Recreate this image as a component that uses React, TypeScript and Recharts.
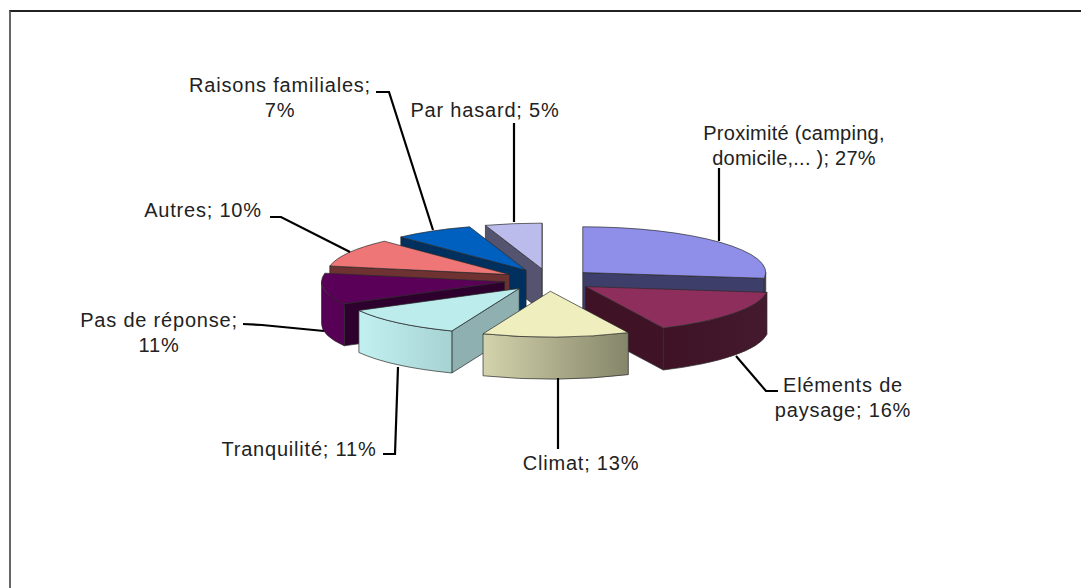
import { PieChart, Pie } from 'recharts';

const categories = [
  'Proximité (camping, domicile,... )',
  'Eléments de paysage',
  'Climat',
  'Tranquilité',
  'Pas de réponse',
  'Autres',
  'Raisons familiales',
  'Par hasard',
];
const shares = [27, 16, 13, 11, 11, 10, 7, 5];

const topColors = ['#8f8fea', '#8e2e5c', '#eeeebe', '#bcecec', '#5a0058', '#ef7676', '#0060c0', '#bcbcec'];
const cutColors = ['#3e3e6a', '#3f1226', '#8b8b6e', '#8eb0b0', '#2e002e', '#6e3232', '#00305e', '#545470'];
const wallStart = ['#3e3e6a', '#3f1226', '#d3d3ac', '#c2f0f0', '#560056', '#6e3232', '#00305e', '#545470'];
const wallEnd = ['#3e3e6a', '#451a2e', '#85856a', '#a6d2d2', '#560056', '#6e3232', '#00305e', '#545470'];

// text block centre, first line of the text, then the leader line
const labelLayout: Record<string, any> = {
  [categories[0]]: { x: 794, y: 140, spacing: 0.25, first: 'Proximité (camping,', leader: [[719, 168], [719, 241]] },
  [categories[1]]: { x: 843, y: 392, first: 'Eléments de', leader: [[736, 356], [766, 391], [778, 391]] },
  [categories[2]]: { x: 581, y: 470, leader: [[558, 378], [558, 449]] },
  [categories[3]]: { x: 299, y: 456, leader: [[383, 454], [395, 454], [398, 367]] },
  [categories[4]]: { x: 159, y: 327, first: 'Pas de réponse;', leader: [[243, 324], [262, 325], [324, 331]] },
  [categories[5]]: { x: 203, y: 217, leader: [[270, 217], [281, 217], [350, 252]] },
  [categories[6]]: { x: 280, y: 92, first: 'Raisons familiales;', leader: [[376, 92], [389, 92], [433, 230]] },
  [categories[7]]: { x: 485, y: 117, leader: [[514, 123], [514, 222]] },
};

const TILT = 0.25;
const DEPTH = 42;
const EXPLODE = 45;
const RAD = Math.PI / 180;

const rows = categories.map((name, i) => ({ name, value: shares[i], colorIndex: i }));
// the two front-right slices are painted first, the rest from the back round to the front
const rightRows = rows.slice(0, 2);
const leftRows = rows.slice(2).reverse();
const rightSweep = (shares[0] + shares[1]) * 3.6;
const leftSweep = 360 - rightSweep;

function Slice3D(props: any) {
  const { cx, cy, outerRadius: r, startAngle, endAngle, colorIndex } = props;
  const hi = Math.max(startAngle, endAngle);
  const lo = Math.min(startAngle, endAngle);
  const mid = ((hi + lo) / 2) * RAD;
  const ax = cx + EXPLODE * Math.cos(mid);
  const ay = cy - EXPLODE * TILT * Math.sin(mid);
  const rim = (a: number, d = 0) => [ax + r * Math.cos(a * RAD), ay - r * TILT * Math.sin(a * RAD) + d];
  const arc = (from: number, to: number, d: number, sweep: number) => {
    const [x, y] = rim(to, d);
    return `A ${r} ${r * TILT} 0 ${Math.abs(from - to) > 180 ? 1 : 0} ${sweep} ${x} ${y}`;
  };
  const cutFace = (a: number) => {
    const [x, y] = rim(a);
    return `M ${ax} ${ay} L ${x} ${y} L ${x} ${y + DEPTH} L ${ax} ${ay + DEPTH} Z`;
  };

  const line = '#2a2a2a';
  const gradId = `wall-${colorIndex}`;
  const walls: string[] = [];
  [[-180, 0], [180, 360]].forEach(([f0, f1]) => {
    const a1 = Math.min(hi, f1);
    const a2 = Math.max(lo, f0);
    if (a1 > a2) {
      const [x1, y1] = rim(a1);
      const [x2, y2] = rim(a2, DEPTH);
      walls.push(`M ${x1} ${y1} ${arc(a1, a2, 0, 1)} L ${x2} ${y2} ${arc(a2, a1, DEPTH, 0)} Z`);
    }
  });
  const [hx, hy] = rim(hi);

  return (
    <g>
      <defs>
        <linearGradient id={gradId} x1="0" y1="0" x2="1" y2="0">
          <stop offset="0" stopColor={wallStart[colorIndex]} />
          <stop offset="1" stopColor={wallEnd[colorIndex]} />
        </linearGradient>
      </defs>
      {Math.cos(lo * RAD) > 0 && <path d={cutFace(lo)} fill={cutColors[colorIndex]} stroke={line} strokeWidth={0.7} />}
      {Math.cos(hi * RAD) < -0.001 && <path d={cutFace(hi)} fill={cutColors[colorIndex]} stroke={line} strokeWidth={0.7} />}
      {walls.map((d) => (
        <path key={d} d={d} fill={`url(#${gradId})`} stroke={line} strokeWidth={0.7} />
      ))}
      <path
        d={`M ${ax} ${ay} L ${hx} ${hy} ${arc(hi, lo, 0, 1)} Z`}
        fill={topColors[colorIndex]}
        stroke={line}
        strokeWidth={0.7}
      />
    </g>
  );
}

function SliceLabel(props: any) {
  const layout = labelLayout[props.name];
  const full = `${props.name}; ${props.value}%`;
  const lines = layout.first ? [layout.first, full.slice(layout.first.length).trim()] : [full];
  return (
    <g>
      <polyline
        points={layout.leader.map((p: number[]) => p.join(',')).join(' ')}
        fill="none"
        stroke="#000"
        strokeWidth={2.2}
      />
      <text
        x={layout.x}
        y={layout.y}
        textAnchor="middle"
        fontFamily="'Liberation Sans', Arial, sans-serif"
        fontSize={20}
        letterSpacing={layout.spacing ?? 0.8}
        fill="#222"
      >
        {lines.map((t: string, i: number) => (
          <tspan key={t} x={layout.x} dy={i === 0 ? 0 : 25}>{t}</tspan>
        ))}
      </text>
    </g>
  );
}

export default function App() {
  return (
    <div style={{ position: 'absolute', left: 0, top: 0, width: 1081, height: 588, overflow: 'hidden', background: '#fff' }}>
      <div
        style={{
          position: 'absolute',
          left: 9,
          top: 10,
          width: 1300,
          height: 900,
          borderTop: '2px solid #222',
          borderLeft: '2px solid #666',
        }}
      />
      <div style={{ position: 'absolute', left: 0, top: 0 }}>
        <PieChart width={1081} height={588} margin={{ top: 0, right: 0, bottom: 0, left: 0 }}>
          <Pie
            data={rightRows}
            dataKey="value"
            nameKey="name"
            cx={549}
            cy={280}
            outerRadius={183}
            startAngle={90}
            endAngle={90 - rightSweep}
            stroke="none"
            shape={Slice3D}
            label={SliceLabel}
            labelLine={false}
            isAnimationActive={false}
          />
          <Pie
            data={leftRows}
            dataKey="value"
            nameKey="name"
            cx={549}
            cy={280}
            outerRadius={183}
            startAngle={90}
            endAngle={90 + leftSweep}
            stroke="none"
            shape={Slice3D}
            label={SliceLabel}
            labelLine={false}
            isAnimationActive={false}
          />
        </PieChart>
      </div>
    </div>
  );
}
